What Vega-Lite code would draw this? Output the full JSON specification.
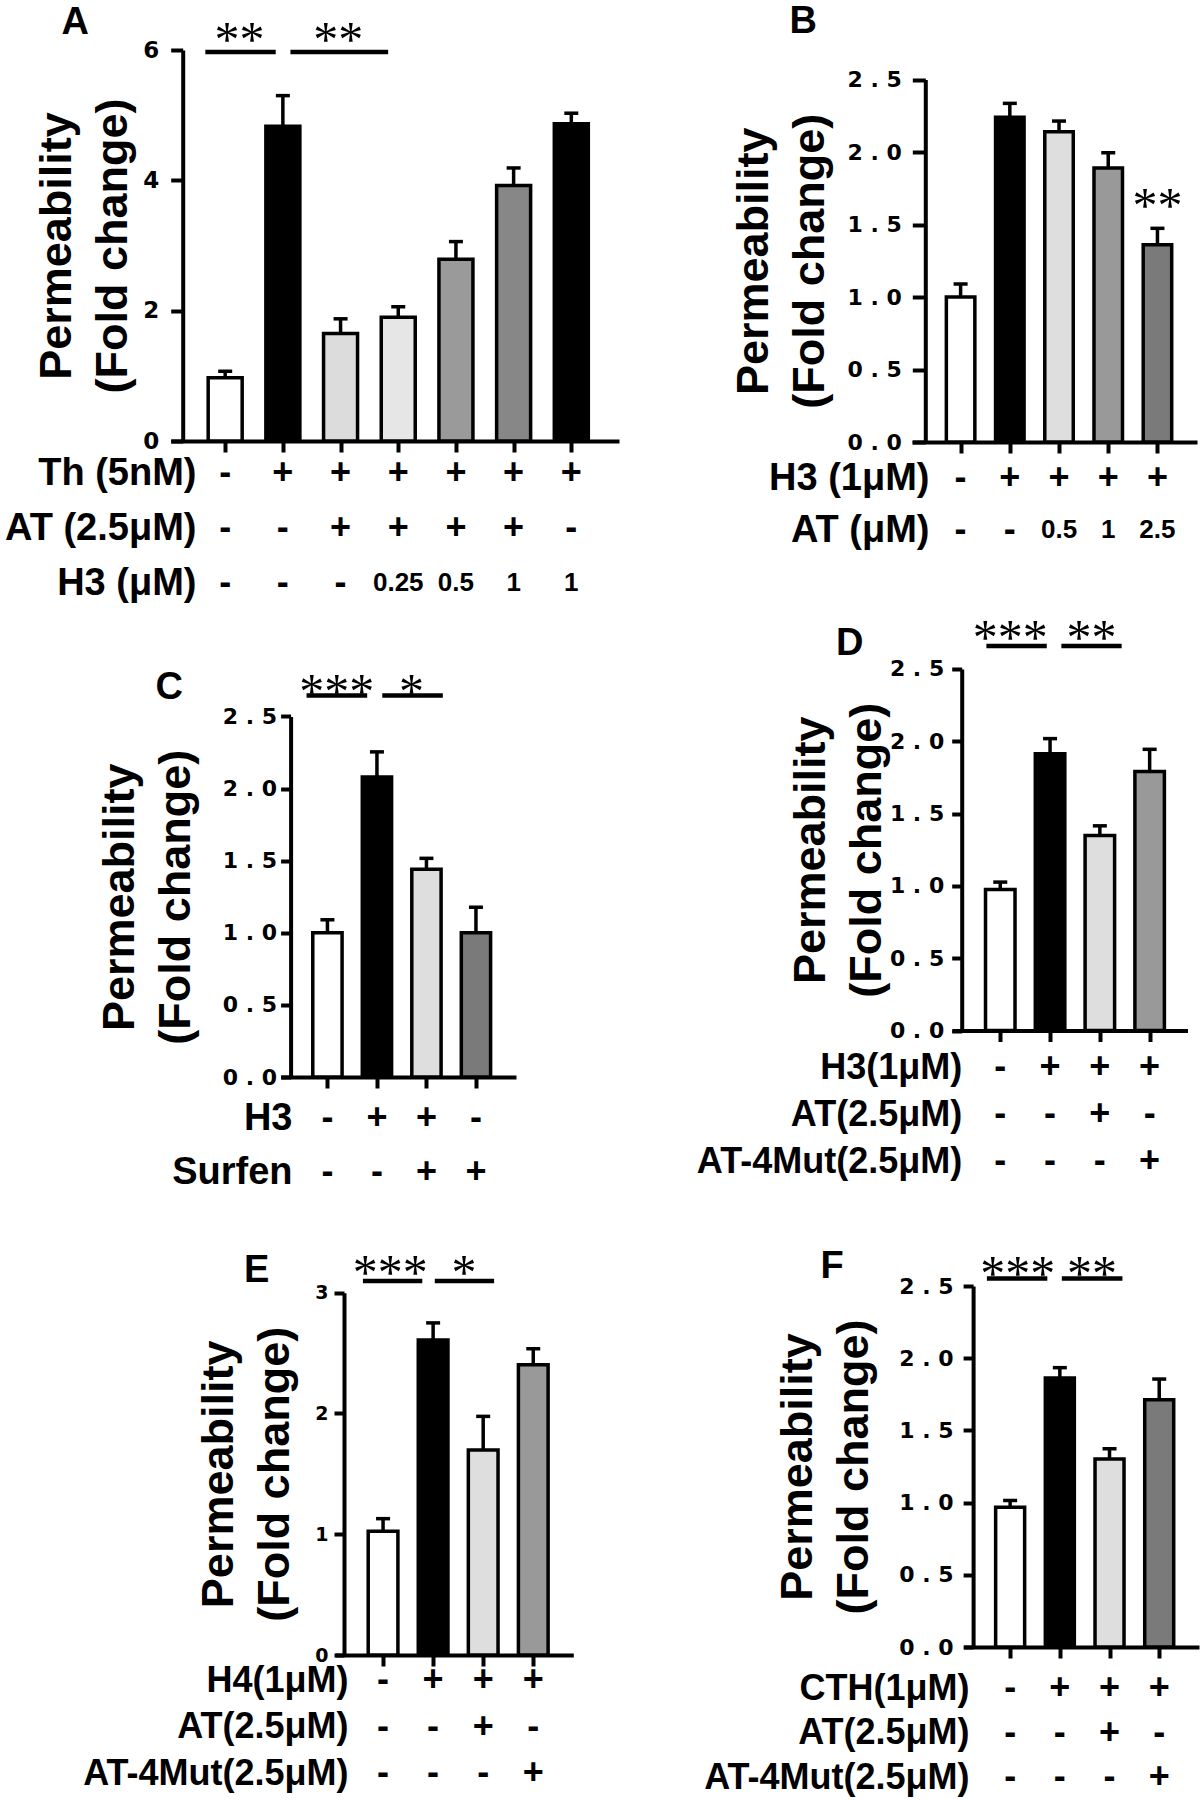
{
"$schema": "https://vega.github.io/schema/vega-lite/v6.json",
"padding": 0,
"autosize": {"type": "pad"},
"background": "white",
"columns": 2,
"spacing": 0,
"bounds": "flush",
"resolve": {"scale": {"color": "independent"}},
"config": {
  "view": {"stroke": null},
  "axis": {"domainColor": "black", "tickColor": "black", "labelColor": "black", "titleColor": "black", "domainWidth": 4, "tickWidth": 4, "grid": false, "labelFont": "DejaVu Sans", "labelFontWeight": "bold", "titleFont": "Liberation Sans", "titleFontWeight": "bold", "titleFontSize": 45, "titleLineHeight": 56, "titleBaseline": "bottom"}
},
"datasets": {
  "bars": [
    {"p":"A","i":1,"v":0.97,"e":1.07},{"p":"A","i":2,"v":4.83,"e":5.3},{"p":"A","i":3,"v":1.65,"e":1.875},{"p":"A","i":4,"v":1.9,"e":2.06},{"p":"A","i":5,"v":2.79,"e":3.06},{"p":"A","i":6,"v":3.92,"e":4.19},{"p":"A","i":7,"v":4.87,"e":5.03},
    {"p":"B","i":1,"v":1.0,"e":1.09},{"p":"B","i":2,"v":2.24,"e":2.336},{"p":"B","i":3,"v":2.14,"e":2.214},{"p":"B","i":4,"v":1.89,"e":1.995},{"p":"B","i":5,"v":1.36,"e":1.474},
    {"p":"C","i":1,"v":1.0,"e":1.09},{"p":"C","i":2,"v":2.08,"e":2.254},{"p":"C","i":3,"v":1.44,"e":1.516},{"p":"C","i":4,"v":1.0,"e":1.177},
    {"p":"D","i":1,"v":0.975,"e":1.026},{"p":"D","i":2,"v":1.913,"e":2.018},{"p":"D","i":3,"v":1.349,"e":1.415},{"p":"D","i":4,"v":1.791,"e":1.944},
    {"p":"E","i":1,"v":1.024,"e":1.129},{"p":"E","i":2,"v":2.608,"e":2.75},{"p":"E","i":3,"v":1.698,"e":1.976},{"p":"E","i":4,"v":2.403,"e":2.536},
    {"p":"F","i":1,"v":0.968,"e":1.015},{"p":"F","i":2,"v":1.864,"e":1.935},{"p":"F","i":3,"v":1.302,"e":1.373},{"p":"F","i":4,"v":1.713,"e":1.856}
  ],
  "lines": [
    {"p":"A","x1":0.656,"x2":1.876,"y":5.97},{"p":"A","x1":2.131,"x2":3.825,"y":5.97},
    {"p":"C","x1":0.578,"x2":1.803,"y":2.645},{"p":"C","x1":2.108,"x2":3.331,"y":2.645},
    {"p":"D","x1":0.721,"x2":1.934,"y":2.658},{"p":"D","x1":2.227,"x2":3.438,"y":2.658},
    {"p":"E","x1":0.598,"x2":1.784,"y":3.097},{"p":"E","x1":2.033,"x2":3.218,"y":3.097},
    {"p":"F","x1":0.532,"x2":1.748,"y":2.553},{"p":"F","x1":2.04,"x2":3.26,"y":2.553}
  ],
  "stars": [
    {"p":"A","x":1.25,"y":6.29,"s":"**"},{"p":"A","x":2.96,"y":6.29,"s":"**"},
    {"p":"B","x":5,"y":1.69,"s":"**"},
    {"p":"C","x":1.19,"y":2.73,"s":"***"},{"p":"C","x":2.7,"y":2.73,"s":"*"},
    {"p":"D","x":1.2,"y":2.776,"s":"***"},{"p":"D","x":2.833,"y":2.776,"s":"**"},
    {"p":"E","x":1.143,"y":3.24,"s":"***"},{"p":"E","x":2.618,"y":3.24,"s":"*"},
    {"p":"F","x":1.154,"y":2.643,"s":"***"},{"p":"F","x":2.647,"y":2.643,"s":"**"}
  ],
  "letters": [
    {"p":"A","x":-1.6,"y":6.475,"t":"A"},{"p":"B","x":-2.2,"y":2.925,"t":"B"},{"p":"C","x":-2.197,"y":2.725,"t":"C"},
    {"p":"D","x":-2.023,"y":2.7,"t":"D"},{"p":"E","x":-1.524,"y":3.214,"t":"E"},{"p":"F","x":-2.584,"y":2.66,"t":"F"}
  ],
  "table": [
    {"p":"A","row":"Th (5nM)","i":1,"val":"-"},{"p":"A","row":"Th (5nM)","i":2,"val":"+"},{"p":"A","row":"Th (5nM)","i":3,"val":"+"},{"p":"A","row":"Th (5nM)","i":4,"val":"+"},{"p":"A","row":"Th (5nM)","i":5,"val":"+"},{"p":"A","row":"Th (5nM)","i":6,"val":"+"},{"p":"A","row":"Th (5nM)","i":7,"val":"+"},
    {"p":"A","row":"AT (2.5μM)","i":1,"val":"-"},{"p":"A","row":"AT (2.5μM)","i":2,"val":"-"},{"p":"A","row":"AT (2.5μM)","i":3,"val":"+"},{"p":"A","row":"AT (2.5μM)","i":4,"val":"+"},{"p":"A","row":"AT (2.5μM)","i":5,"val":"+"},{"p":"A","row":"AT (2.5μM)","i":6,"val":"+"},{"p":"A","row":"AT (2.5μM)","i":7,"val":"-"},
    {"p":"A","row":"H3 (μM)","i":1,"val":"-"},{"p":"A","row":"H3 (μM)","i":2,"val":"-"},{"p":"A","row":"H3 (μM)","i":3,"val":"-"},{"p":"A","row":"H3 (μM)","i":4,"val":"0.25"},{"p":"A","row":"H3 (μM)","i":5,"val":"0.5"},{"p":"A","row":"H3 (μM)","i":6,"val":"1"},{"p":"A","row":"H3 (μM)","i":7,"val":"1"},
    {"p":"B","row":"H3 (1μM)","i":1,"val":"-"},{"p":"B","row":"H3 (1μM)","i":2,"val":"+"},{"p":"B","row":"H3 (1μM)","i":3,"val":"+"},{"p":"B","row":"H3 (1μM)","i":4,"val":"+"},{"p":"B","row":"H3 (1μM)","i":5,"val":"+"},
    {"p":"B","row":"AT (μM)","i":1,"val":"-"},{"p":"B","row":"AT (μM)","i":2,"val":"-"},{"p":"B","row":"AT (μM)","i":3,"val":"0.5"},{"p":"B","row":"AT (μM)","i":4,"val":"1"},{"p":"B","row":"AT (μM)","i":5,"val":"2.5"},
    {"p":"C","row":"H3","i":1,"val":"-"},{"p":"C","row":"H3","i":2,"val":"+"},{"p":"C","row":"H3","i":3,"val":"+"},{"p":"C","row":"H3","i":4,"val":"-"},
    {"p":"C","row":"Surfen","i":1,"val":"-"},{"p":"C","row":"Surfen","i":2,"val":"-"},{"p":"C","row":"Surfen","i":3,"val":"+"},{"p":"C","row":"Surfen","i":4,"val":"+"},
    {"p":"D","row":"H3(1μM)","i":1,"val":"-"},{"p":"D","row":"H3(1μM)","i":2,"val":"+"},{"p":"D","row":"H3(1μM)","i":3,"val":"+"},{"p":"D","row":"H3(1μM)","i":4,"val":"+"},
    {"p":"D","row":"AT(2.5μM)","i":1,"val":"-"},{"p":"D","row":"AT(2.5μM)","i":2,"val":"-"},{"p":"D","row":"AT(2.5μM)","i":3,"val":"+"},{"p":"D","row":"AT(2.5μM)","i":4,"val":"-"},
    {"p":"D","row":"AT-4Mut(2.5μM)","i":1,"val":"-"},{"p":"D","row":"AT-4Mut(2.5μM)","i":2,"val":"-"},{"p":"D","row":"AT-4Mut(2.5μM)","i":3,"val":"-"},{"p":"D","row":"AT-4Mut(2.5μM)","i":4,"val":"+"},
    {"p":"E","row":"H4(1μM)","i":1,"val":"-"},{"p":"E","row":"H4(1μM)","i":2,"val":"+"},{"p":"E","row":"H4(1μM)","i":3,"val":"+"},{"p":"E","row":"H4(1μM)","i":4,"val":"+"},
    {"p":"E","row":"AT(2.5μM)","i":1,"val":"-"},{"p":"E","row":"AT(2.5μM)","i":2,"val":"-"},{"p":"E","row":"AT(2.5μM)","i":3,"val":"+"},{"p":"E","row":"AT(2.5μM)","i":4,"val":"-"},
    {"p":"E","row":"AT-4Mut(2.5μM)","i":1,"val":"-"},{"p":"E","row":"AT-4Mut(2.5μM)","i":2,"val":"-"},{"p":"E","row":"AT-4Mut(2.5μM)","i":3,"val":"-"},{"p":"E","row":"AT-4Mut(2.5μM)","i":4,"val":"+"},
    {"p":"F","row":"CTH(1μM)","i":1,"val":"-"},{"p":"F","row":"CTH(1μM)","i":2,"val":"+"},{"p":"F","row":"CTH(1μM)","i":3,"val":"+"},{"p":"F","row":"CTH(1μM)","i":4,"val":"+"},
    {"p":"F","row":"AT(2.5μM)","i":1,"val":"-"},{"p":"F","row":"AT(2.5μM)","i":2,"val":"-"},{"p":"F","row":"AT(2.5μM)","i":3,"val":"+"},{"p":"F","row":"AT(2.5μM)","i":4,"val":"-"},
    {"p":"F","row":"AT-4Mut(2.5μM)","i":1,"val":"-"},{"p":"F","row":"AT-4Mut(2.5μM)","i":2,"val":"-"},{"p":"F","row":"AT-4Mut(2.5μM)","i":3,"val":"-"},{"p":"F","row":"AT-4Mut(2.5μM)","i":4,"val":"+"}
  ]
},
"concat": [
{
 "width": 600, "height": 600,
 "resolve": {"scale": {"y": "independent"}, "axis": {"y": "independent"}},
 "layer": [
  {"layer": [
   {"data": {"name": "bars"}, "transform": [{"filter": "datum.p === 'A'"}],
    "mark": {"type": "bar", "orient": "vertical", "size": 34, "stroke": "black", "strokeWidth": 3.5},
    "encoding": {
     "x": {"field": "i", "type": "quantitative", "scale": {"domain": [0.144, 7.74], "range": [170.8, 619], "nice": false, "zero": false}, "axis": {"orient": "bottom", "offset": -159, "values": [1,2,3,4,5,6,7], "labels": false, "ticks": true, "domain": true, "tickSize": 11, "tickWidth": 4, "domainWidth": 4, "tickColor": "black", "domainColor": "black", "title": null}},
     "y": {"field": "v", "type": "quantitative", "stack": null, "scale": {"domain": [0, 6], "range": [441, 50], "nice": false, "zero": false}, "axis": {"orient": "left", "offset": -182.7, "values": [0,2,4,6], "format": "d", "ticks": true, "domain": true, "tickSize": 12, "tickWidth": 4, "domainWidth": 4, "tickColor": "black", "domainColor": "black", "labelFont": "DejaVu Sans", "labelFontWeight": "bold", "labelFontSize": 23, "labelColor": "black", "labelPadding": 12, "title": ["Permeability", "(Fold change)"], "titleFont": "Liberation Sans", "titleFontWeight": "bold", "titleFontSize": 45, "titleLineHeight": 56, "titleBaseline": "bottom", "titleColor": "black", "titleX": -103.7}},
     "color": {"field": "i", "type": "ordinal", "scale": {"domain": [1,2,3,4,5,6,7], "range": ["#ffffff","#000000","#dcdcdc","#e6e6e6","#9a9a9a","#878787","#000000"]}, "legend": null}
    }},
   {"data": {"name": "bars"}, "transform": [{"filter": "datum.p === 'A'"}],
    "mark": {"type": "rule", "color": "black", "strokeWidth": 3.5},
    "encoding": {"x": {"field": "i", "type": "quantitative"}, "y": {"field": "v", "type": "quantitative"}, "y2": {"field": "e"}}},
   {"data": {"name": "bars"}, "transform": [{"filter": "datum.p === 'A'"}],
    "mark": {"type": "tick", "orient": "horizontal", "size": 14, "thickness": 3.5, "color": "black", "opacity": 1},
    "encoding": {"x": {"field": "i", "type": "quantitative"}, "y": {"field": "e", "type": "quantitative"}}},
   {"data": {"name": "lines"}, "transform": [{"filter": "datum.p === 'A'"}],
    "mark": {"type": "rule", "color": "black", "strokeWidth": 4.5},
    "encoding": {"x": {"field": "x1", "type": "quantitative"}, "x2": {"field": "x2"}, "y": {"field": "y", "type": "quantitative"}}},
   {"data": {"name": "stars"}, "transform": [{"filter": "datum.p === 'A'"}],
    "mark": {"type": "text", "font": "Liberation Serif", "fontSize": 50, "baseline": "middle", "dy": 10, "color": "black"},
    "encoding": {"x": {"field": "x", "type": "quantitative"}, "y": {"field": "y", "type": "quantitative"}, "text": {"field": "s"}}},
   {"data": {"name": "letters"}, "transform": [{"filter": "datum.p === 'A'"}],
    "mark": {"type": "text", "font": "Liberation Sans", "fontWeight": "bold", "fontSize": 38, "baseline": "middle", "dy": 4, "color": "black"},
    "encoding": {"x": {"field": "x", "type": "quantitative"}, "y": {"field": "y", "type": "quantitative"}, "text": {"field": "t"}}}
  ]},
  {"data": {"name": "table"}, "transform": [{"filter": "datum.p === 'A'"}],
   "mark": {"type": "text", "font": "Liberation Sans", "fontWeight": "bold", "baseline": "middle", "color": "black"},
   "encoding": {
    "x": {"field": "i", "type": "quantitative"},
    "y": {"field": "row", "type": "nominal", "scale": {"type": "point", "domain": ["Th (5nM)", "AT (2.5μM)", "H3 (μM)"], "range": [473, 583], "padding": 0}, "axis": {"orient": "left", "offset": -196, "domain": false, "ticks": false, "tickSize": 0, "labelPadding": 0, "title": null, "labelFont": "Liberation Sans", "labelFontWeight": "bold", "labelFontSize": 38, "labelLimit": 600}},
    "text": {"field": "val"},
    "size": {"condition": {"test": "datum.val === '+' || datum.val === '-'", "value": 36}, "value": 26}
   }}
 ]
},
{
 "width": 600, "height": 600,
 "resolve": {"scale": {"y": "independent"}, "axis": {"y": "independent"}},
 "layer": [
  {"layer": [
   {"data": {"name": "bars"}, "transform": [{"filter": "datum.p === 'B'"}],
    "mark": {"type": "bar", "orient": "vertical", "size": 28.5, "stroke": "black", "strokeWidth": 3.5},
    "encoding": {
     "x": {"field": "i", "type": "quantitative", "scale": {"domain": [0.114, 5.702], "range": [312, 597], "nice": false, "zero": false}, "axis": {"orient": "bottom", "offset": -158, "values": [1,2,3,4,5], "labels": false, "ticks": true, "domain": true, "tickSize": 11, "tickWidth": 4, "domainWidth": 4, "tickColor": "black", "domainColor": "black", "title": null}},
     "y": {"field": "v", "type": "quantitative", "stack": null, "scale": {"domain": [0, 2.5], "range": [442, 79.6], "nice": false, "zero": false}, "axis": {"orient": "left", "offset": -325.3, "values": [0,0.5,1,1.5,2,2.5], "format": ".1f", "labelExpr": "replace(datum.label, '.', '\u00a0.\u00a0')", "ticks": true, "domain": true, "tickSize": 13, "tickWidth": 4, "domainWidth": 4, "tickColor": "black", "domainColor": "black", "labelFont": "DejaVu Sans", "labelFontWeight": "bold", "labelFontSize": 22, "labelColor": "black", "labelPadding": 11, "title": ["Permeability", "(Fold change)"], "titleFont": "Liberation Sans", "titleFontWeight": "bold", "titleFontSize": 45, "titleLineHeight": 56, "titleBaseline": "bottom", "titleColor": "black", "titleX": -149.3}},
     "color": {"field": "i", "type": "ordinal", "scale": {"domain": [1,2,3,4,5], "range": ["#ffffff","#000000","#dedede","#999999","#7a7a7a"]}, "legend": null}
    }},
   {"data": {"name": "bars"}, "transform": [{"filter": "datum.p === 'B'"}],
    "mark": {"type": "rule", "color": "black", "strokeWidth": 3.5},
    "encoding": {"x": {"field": "i", "type": "quantitative"}, "y": {"field": "v", "type": "quantitative"}, "y2": {"field": "e"}}},
   {"data": {"name": "bars"}, "transform": [{"filter": "datum.p === 'B'"}],
    "mark": {"type": "tick", "orient": "horizontal", "size": 14, "thickness": 3.5, "color": "black", "opacity": 1},
    "encoding": {"x": {"field": "i", "type": "quantitative"}, "y": {"field": "e", "type": "quantitative"}}},
   {"data": {"name": "stars"}, "transform": [{"filter": "datum.p === 'B'"}],
    "mark": {"type": "text", "font": "Liberation Serif", "fontSize": 50, "baseline": "middle", "dy": 10, "color": "black"},
    "encoding": {"x": {"field": "x", "type": "quantitative"}, "y": {"field": "y", "type": "quantitative"}, "text": {"field": "s"}}},
   {"data": {"name": "letters"}, "transform": [{"filter": "datum.p === 'B'"}],
    "mark": {"type": "text", "font": "Liberation Sans", "fontWeight": "bold", "fontSize": 38, "baseline": "middle", "dy": 4, "color": "black"},
    "encoding": {"x": {"field": "x", "type": "quantitative"}, "y": {"field": "y", "type": "quantitative"}, "text": {"field": "t"}}}
  ]},
  {"data": {"name": "table"}, "transform": [{"filter": "datum.p === 'B'"}],
   "mark": {"type": "text", "font": "Liberation Sans", "fontWeight": "bold", "baseline": "middle", "color": "black"},
   "encoding": {
    "x": {"field": "i", "type": "quantitative"},
    "y": {"field": "row", "type": "nominal", "scale": {"type": "point", "domain": ["H3 (1μM)", "AT (μM)"], "range": [478, 530], "padding": 0}, "axis": {"orient": "left", "offset": -329, "domain": false, "ticks": false, "tickSize": 0, "labelPadding": 0, "title": null, "labelFont": "Liberation Sans", "labelFontWeight": "bold", "labelFontSize": 38, "labelLimit": 600}},
    "text": {"field": "val"},
    "size": {"condition": {"test": "datum.val === '+' || datum.val === '-'", "value": 36}, "value": 26}
   }}
 ]
},
{
 "width": 600, "height": 600,
 "resolve": {"scale": {"y": "independent"}, "axis": {"y": "independent"}},
 "layer": [
  {"layer": [
   {"data": {"name": "bars"}, "transform": [{"filter": "datum.p === 'C'"}],
    "mark": {"type": "bar", "orient": "vertical", "size": 29.3, "stroke": "black", "strokeWidth": 3.5},
    "encoding": {
     "x": {"field": "i", "type": "quantitative", "scale": {"domain": [0.157, 4.708], "range": [280.7, 516], "nice": false, "zero": false}, "axis": {"orient": "bottom", "offset": -123, "values": [1,2,3,4], "labels": false, "ticks": true, "domain": true, "tickSize": 11, "tickWidth": 4, "domainWidth": 4, "tickColor": "black", "domainColor": "black", "title": null}},
     "y": {"field": "v", "type": "quantitative", "stack": null, "scale": {"domain": [0, 2.5], "range": [477, 116.4], "nice": false, "zero": false}, "axis": {"orient": "left", "offset": -290.6, "values": [0,0.5,1,1.5,2,2.5], "format": ".1f", "labelExpr": "replace(datum.label, '.', '\u00a0.\u00a0')", "ticks": true, "domain": true, "tickSize": 10, "tickWidth": 4, "domainWidth": 4, "tickColor": "black", "domainColor": "black", "labelFont": "DejaVu Sans", "labelFontWeight": "bold", "labelFontSize": 22, "labelColor": "black", "labelPadding": 4, "title": ["Permeability", "(Fold change)"], "titleFont": "Liberation Sans", "titleFontWeight": "bold", "titleFontSize": 45, "titleLineHeight": 56, "titleBaseline": "bottom", "titleColor": "black", "titleX": -148.6}},
     "color": {"field": "i", "type": "ordinal", "scale": {"domain": [1,2,3,4], "range": ["#ffffff","#000000","#dedede","#7a7a7a"]}, "legend": null}
    }},
   {"data": {"name": "bars"}, "transform": [{"filter": "datum.p === 'C'"}],
    "mark": {"type": "rule", "color": "black", "strokeWidth": 3.5},
    "encoding": {"x": {"field": "i", "type": "quantitative"}, "y": {"field": "v", "type": "quantitative"}, "y2": {"field": "e"}}},
   {"data": {"name": "bars"}, "transform": [{"filter": "datum.p === 'C'"}],
    "mark": {"type": "tick", "orient": "horizontal", "size": 14, "thickness": 3.5, "color": "black", "opacity": 1},
    "encoding": {"x": {"field": "i", "type": "quantitative"}, "y": {"field": "e", "type": "quantitative"}}},
   {"data": {"name": "lines"}, "transform": [{"filter": "datum.p === 'C'"}],
    "mark": {"type": "rule", "color": "black", "strokeWidth": 4.5},
    "encoding": {"x": {"field": "x1", "type": "quantitative"}, "x2": {"field": "x2"}, "y": {"field": "y", "type": "quantitative"}}},
   {"data": {"name": "stars"}, "transform": [{"filter": "datum.p === 'C'"}],
    "mark": {"type": "text", "font": "Liberation Serif", "fontSize": 50, "baseline": "middle", "dy": 10, "color": "black"},
    "encoding": {"x": {"field": "x", "type": "quantitative"}, "y": {"field": "y", "type": "quantitative"}, "text": {"field": "s"}}},
   {"data": {"name": "letters"}, "transform": [{"filter": "datum.p === 'C'"}],
    "mark": {"type": "text", "font": "Liberation Sans", "fontWeight": "bold", "fontSize": 38, "baseline": "middle", "dy": 4, "color": "black"},
    "encoding": {"x": {"field": "x", "type": "quantitative"}, "y": {"field": "y", "type": "quantitative"}, "text": {"field": "t"}}}
  ]},
  {"data": {"name": "table"}, "transform": [{"filter": "datum.p === 'C'"}],
   "mark": {"type": "text", "font": "Liberation Sans", "fontWeight": "bold", "baseline": "middle", "color": "black"},
   "encoding": {
    "x": {"field": "i", "type": "quantitative"},
    "y": {"field": "row", "type": "nominal", "scale": {"type": "point", "domain": ["H3", "Surfen"], "range": [518, 572], "padding": 0}, "axis": {"orient": "left", "offset": -292, "domain": false, "ticks": false, "tickSize": 0, "labelPadding": 0, "title": null, "labelFont": "Liberation Sans", "labelFontWeight": "bold", "labelFontSize": 38, "labelLimit": 600}},
    "text": {"field": "val"},
    "size": {"condition": {"test": "datum.val === '+' || datum.val === '-'", "value": 36}, "value": 26}
   }}
 ]
},
{
 "width": 600, "height": 600,
 "resolve": {"scale": {"y": "independent"}, "axis": {"y": "independent"}},
 "layer": [
  {"layer": [
   {"data": {"name": "bars"}, "transform": [{"filter": "datum.p === 'D'"}],
    "mark": {"type": "bar", "orient": "vertical", "size": 29.5, "stroke": "black", "strokeWidth": 3.5},
    "encoding": {
     "x": {"field": "i", "type": "quantitative", "scale": {"domain": [0.131, 4.66], "range": [352, 587.5], "nice": false, "zero": false}, "axis": {"orient": "bottom", "offset": -169.5, "values": [1,2,3,4], "labels": false, "ticks": true, "domain": true, "tickSize": 11, "tickWidth": 4, "domainWidth": 4, "tickColor": "black", "domainColor": "black", "title": null}},
     "y": {"field": "v", "type": "quantitative", "stack": null, "scale": {"domain": [0, 2.5], "range": [430.5, 68.9], "nice": false, "zero": false}, "axis": {"orient": "left", "offset": -361.7, "values": [0,0.5,1,1.5,2,2.5], "format": ".1f", "labelExpr": "replace(datum.label, '.', '\u00a0.\u00a0')", "ticks": true, "domain": true, "tickSize": 10, "tickWidth": 4, "domainWidth": 4, "tickColor": "black", "domainColor": "black", "labelFont": "DejaVu Sans", "labelFontWeight": "bold", "labelFontSize": 22, "labelColor": "black", "labelPadding": 8, "title": ["Permeability", "(Fold change)"], "titleFont": "Liberation Sans", "titleFontWeight": "bold", "titleFontSize": 45, "titleLineHeight": 56, "titleBaseline": "bottom", "titleColor": "black", "titleX": -128.3}},
     "color": {"field": "i", "type": "ordinal", "scale": {"domain": [1,2,3,4], "range": ["#ffffff","#000000","#dedede","#999999"]}, "legend": null}
    }},
   {"data": {"name": "bars"}, "transform": [{"filter": "datum.p === 'D'"}],
    "mark": {"type": "rule", "color": "black", "strokeWidth": 3.5},
    "encoding": {"x": {"field": "i", "type": "quantitative"}, "y": {"field": "v", "type": "quantitative"}, "y2": {"field": "e"}}},
   {"data": {"name": "bars"}, "transform": [{"filter": "datum.p === 'D'"}],
    "mark": {"type": "tick", "orient": "horizontal", "size": 14, "thickness": 3.5, "color": "black", "opacity": 1},
    "encoding": {"x": {"field": "i", "type": "quantitative"}, "y": {"field": "e", "type": "quantitative"}}},
   {"data": {"name": "lines"}, "transform": [{"filter": "datum.p === 'D'"}],
    "mark": {"type": "rule", "color": "black", "strokeWidth": 4.5},
    "encoding": {"x": {"field": "x1", "type": "quantitative"}, "x2": {"field": "x2"}, "y": {"field": "y", "type": "quantitative"}}},
   {"data": {"name": "stars"}, "transform": [{"filter": "datum.p === 'D'"}],
    "mark": {"type": "text", "font": "Liberation Serif", "fontSize": 50, "baseline": "middle", "dy": 10, "color": "black"},
    "encoding": {"x": {"field": "x", "type": "quantitative"}, "y": {"field": "y", "type": "quantitative"}, "text": {"field": "s"}}},
   {"data": {"name": "letters"}, "transform": [{"filter": "datum.p === 'D'"}],
    "mark": {"type": "text", "font": "Liberation Sans", "fontWeight": "bold", "fontSize": 38, "baseline": "middle", "dy": 4, "color": "black"},
    "encoding": {"x": {"field": "x", "type": "quantitative"}, "y": {"field": "y", "type": "quantitative"}, "text": {"field": "t"}}}
  ]},
  {"data": {"name": "table"}, "transform": [{"filter": "datum.p === 'D'"}],
   "mark": {"type": "text", "font": "Liberation Sans", "fontWeight": "bold", "baseline": "middle", "color": "black"},
   "encoding": {
    "x": {"field": "i", "type": "quantitative"},
    "y": {"field": "row", "type": "nominal", "scale": {"type": "point", "domain": ["H3(1μM)", "AT(2.5μM)", "AT-4Mut(2.5μM)"], "range": [467, 561], "padding": 0}, "axis": {"orient": "left", "offset": -361.7, "domain": false, "ticks": false, "tickSize": 0, "labelPadding": 0, "title": null, "labelFont": "Liberation Sans", "labelFontWeight": "bold", "labelFontSize": 36, "labelLimit": 600}},
    "text": {"field": "val"},
    "size": {"condition": {"test": "datum.val === '+' || datum.val === '-'", "value": 36}, "value": 26}
   }}
 ]
},
{
 "width": 600, "height": 600,
 "resolve": {"scale": {"y": "independent"}, "axis": {"y": "independent"}},
 "layer": [
  {"layer": [
   {"data": {"name": "bars"}, "transform": [{"filter": "datum.p === 'E'"}],
    "mark": {"type": "bar", "orient": "vertical", "size": 29.7, "stroke": "black", "strokeWidth": 3.5},
    "encoding": {
     "x": {"field": "i", "type": "quantitative", "scale": {"domain": [0.14, 4.7], "range": [335, 573.3], "nice": false, "zero": false}, "axis": {"orient": "bottom", "offset": -145, "values": [1,2,3,4], "labels": false, "ticks": true, "domain": true, "tickSize": 11, "tickWidth": 4, "domainWidth": 4, "tickColor": "black", "domainColor": "black", "title": null}},
     "y": {"field": "v", "type": "quantitative", "stack": null, "scale": {"domain": [0, 3], "range": [455, 92.7], "nice": false, "zero": false}, "axis": {"orient": "left", "offset": -344, "values": [0,1,2,3], "format": "d", "ticks": true, "domain": true, "tickSize": 10, "tickWidth": 4, "domainWidth": 4, "tickColor": "black", "domainColor": "black", "labelFont": "DejaVu Sans", "labelFontWeight": "bold", "labelFontSize": 19, "labelColor": "black", "labelPadding": 6, "title": ["Permeability", "(Fold change)"], "titleFont": "Liberation Sans", "titleFontWeight": "bold", "titleFontSize": 45, "titleLineHeight": 56, "titleBaseline": "bottom", "titleColor": "black", "titleX": -103}},
     "color": {"field": "i", "type": "ordinal", "scale": {"domain": [1,2,3,4], "range": ["#ffffff","#000000","#dedede","#999999"]}, "legend": null}
    }},
   {"data": {"name": "bars"}, "transform": [{"filter": "datum.p === 'E'"}],
    "mark": {"type": "rule", "color": "black", "strokeWidth": 3.5},
    "encoding": {"x": {"field": "i", "type": "quantitative"}, "y": {"field": "v", "type": "quantitative"}, "y2": {"field": "e"}}},
   {"data": {"name": "bars"}, "transform": [{"filter": "datum.p === 'E'"}],
    "mark": {"type": "tick", "orient": "horizontal", "size": 14, "thickness": 3.5, "color": "black", "opacity": 1},
    "encoding": {"x": {"field": "i", "type": "quantitative"}, "y": {"field": "e", "type": "quantitative"}}},
   {"data": {"name": "lines"}, "transform": [{"filter": "datum.p === 'E'"}],
    "mark": {"type": "rule", "color": "black", "strokeWidth": 4.5},
    "encoding": {"x": {"field": "x1", "type": "quantitative"}, "x2": {"field": "x2"}, "y": {"field": "y", "type": "quantitative"}}},
   {"data": {"name": "stars"}, "transform": [{"filter": "datum.p === 'E'"}],
    "mark": {"type": "text", "font": "Liberation Serif", "fontSize": 50, "baseline": "middle", "dy": 10, "color": "black"},
    "encoding": {"x": {"field": "x", "type": "quantitative"}, "y": {"field": "y", "type": "quantitative"}, "text": {"field": "s"}}},
   {"data": {"name": "letters"}, "transform": [{"filter": "datum.p === 'E'"}],
    "mark": {"type": "text", "font": "Liberation Sans", "fontWeight": "bold", "fontSize": 38, "baseline": "middle", "dy": 4, "color": "black"},
    "encoding": {"x": {"field": "x", "type": "quantitative"}, "y": {"field": "y", "type": "quantitative"}, "text": {"field": "t"}}}
  ]},
  {"data": {"name": "table"}, "transform": [{"filter": "datum.p === 'E'"}],
   "mark": {"type": "text", "font": "Liberation Sans", "fontWeight": "bold", "baseline": "middle", "color": "black"},
   "encoding": {
    "x": {"field": "i", "type": "quantitative"},
    "y": {"field": "row", "type": "nominal", "scale": {"type": "point", "domain": ["H4(1μM)", "AT(2.5μM)", "AT-4Mut(2.5μM)"], "range": [480, 573], "padding": 0}, "axis": {"orient": "left", "offset": -348, "domain": false, "ticks": false, "tickSize": 0, "labelPadding": 0, "title": null, "labelFont": "Liberation Sans", "labelFontWeight": "bold", "labelFontSize": 36, "labelLimit": 600}},
    "text": {"field": "val"},
    "size": {"condition": {"test": "datum.val === '+' || datum.val === '-'", "value": 36}, "value": 26}
   }}
 ]
},
{
 "width": 600, "height": 600,
 "resolve": {"scale": {"y": "independent"}, "axis": {"y": "independent"}},
 "layer": [
  {"layer": [
   {"data": {"name": "bars"}, "transform": [{"filter": "datum.p === 'F'"}],
    "mark": {"type": "bar", "orient": "vertical", "size": 29, "stroke": "black", "strokeWidth": 3.5},
    "encoding": {
     "x": {"field": "i", "type": "quantitative", "scale": {"domain": [0.164, 4.7], "range": [363.6, 599], "nice": false, "zero": false}, "axis": {"orient": "bottom", "offset": -153, "values": [1,2,3,4], "labels": false, "ticks": true, "domain": true, "tickSize": 11, "tickWidth": 4, "domainWidth": 4, "tickColor": "black", "domainColor": "black", "title": null}},
     "y": {"field": "v", "type": "quantitative", "stack": null, "scale": {"domain": [0, 2.5], "range": [447, 86.1], "nice": false, "zero": false}, "axis": {"orient": "left", "offset": -373.1, "values": [0,0.5,1,1.5,2,2.5], "format": ".1f", "labelExpr": "replace(datum.label, '.', '\u00a0.\u00a0')", "ticks": true, "domain": true, "tickSize": 10, "tickWidth": 4, "domainWidth": 4, "tickColor": "black", "domainColor": "black", "labelFont": "DejaVu Sans", "labelFontWeight": "bold", "labelFontSize": 22, "labelColor": "black", "labelPadding": 10, "title": ["Permeability", "(Fold change)"], "titleFont": "Liberation Sans", "titleFontWeight": "bold", "titleFontSize": 45, "titleLineHeight": 56, "titleBaseline": "bottom", "titleColor": "black", "titleX": -153}},
     "color": {"field": "i", "type": "ordinal", "scale": {"domain": [1,2,3,4], "range": ["#ffffff","#000000","#dedede","#7a7a7a"]}, "legend": null}
    }},
   {"data": {"name": "bars"}, "transform": [{"filter": "datum.p === 'F'"}],
    "mark": {"type": "rule", "color": "black", "strokeWidth": 3.5},
    "encoding": {"x": {"field": "i", "type": "quantitative"}, "y": {"field": "v", "type": "quantitative"}, "y2": {"field": "e"}}},
   {"data": {"name": "bars"}, "transform": [{"filter": "datum.p === 'F'"}],
    "mark": {"type": "tick", "orient": "horizontal", "size": 14, "thickness": 3.5, "color": "black", "opacity": 1},
    "encoding": {"x": {"field": "i", "type": "quantitative"}, "y": {"field": "e", "type": "quantitative"}}},
   {"data": {"name": "lines"}, "transform": [{"filter": "datum.p === 'F'"}],
    "mark": {"type": "rule", "color": "black", "strokeWidth": 4.5},
    "encoding": {"x": {"field": "x1", "type": "quantitative"}, "x2": {"field": "x2"}, "y": {"field": "y", "type": "quantitative"}}},
   {"data": {"name": "stars"}, "transform": [{"filter": "datum.p === 'F'"}],
    "mark": {"type": "text", "font": "Liberation Serif", "fontSize": 50, "baseline": "middle", "dy": 10, "color": "black"},
    "encoding": {"x": {"field": "x", "type": "quantitative"}, "y": {"field": "y", "type": "quantitative"}, "text": {"field": "s"}}},
   {"data": {"name": "letters"}, "transform": [{"filter": "datum.p === 'F'"}],
    "mark": {"type": "text", "font": "Liberation Sans", "fontWeight": "bold", "fontSize": 38, "baseline": "middle", "dy": 4, "color": "black"},
    "encoding": {"x": {"field": "x", "type": "quantitative"}, "y": {"field": "y", "type": "quantitative"}, "text": {"field": "t"}}}
  ]},
  {"data": {"name": "table"}, "transform": [{"filter": "datum.p === 'F'"}],
   "mark": {"type": "text", "font": "Liberation Sans", "fontWeight": "bold", "baseline": "middle", "color": "black"},
   "encoding": {
    "x": {"field": "i", "type": "quantitative"},
    "y": {"field": "row", "type": "nominal", "scale": {"type": "point", "domain": ["CTH(1μM)", "AT(2.5μM)", "AT-4Mut(2.5μM)"], "range": [488, 577], "padding": 0}, "axis": {"orient": "left", "offset": -369, "domain": false, "ticks": false, "tickSize": 0, "labelPadding": 0, "title": null, "labelFont": "Liberation Sans", "labelFontWeight": "bold", "labelFontSize": 36, "labelLimit": 600}},
    "text": {"field": "val"},
    "size": {"condition": {"test": "datum.val === '+' || datum.val === '-'", "value": 36}, "value": 26}
   }}
 ]
}
]
}
